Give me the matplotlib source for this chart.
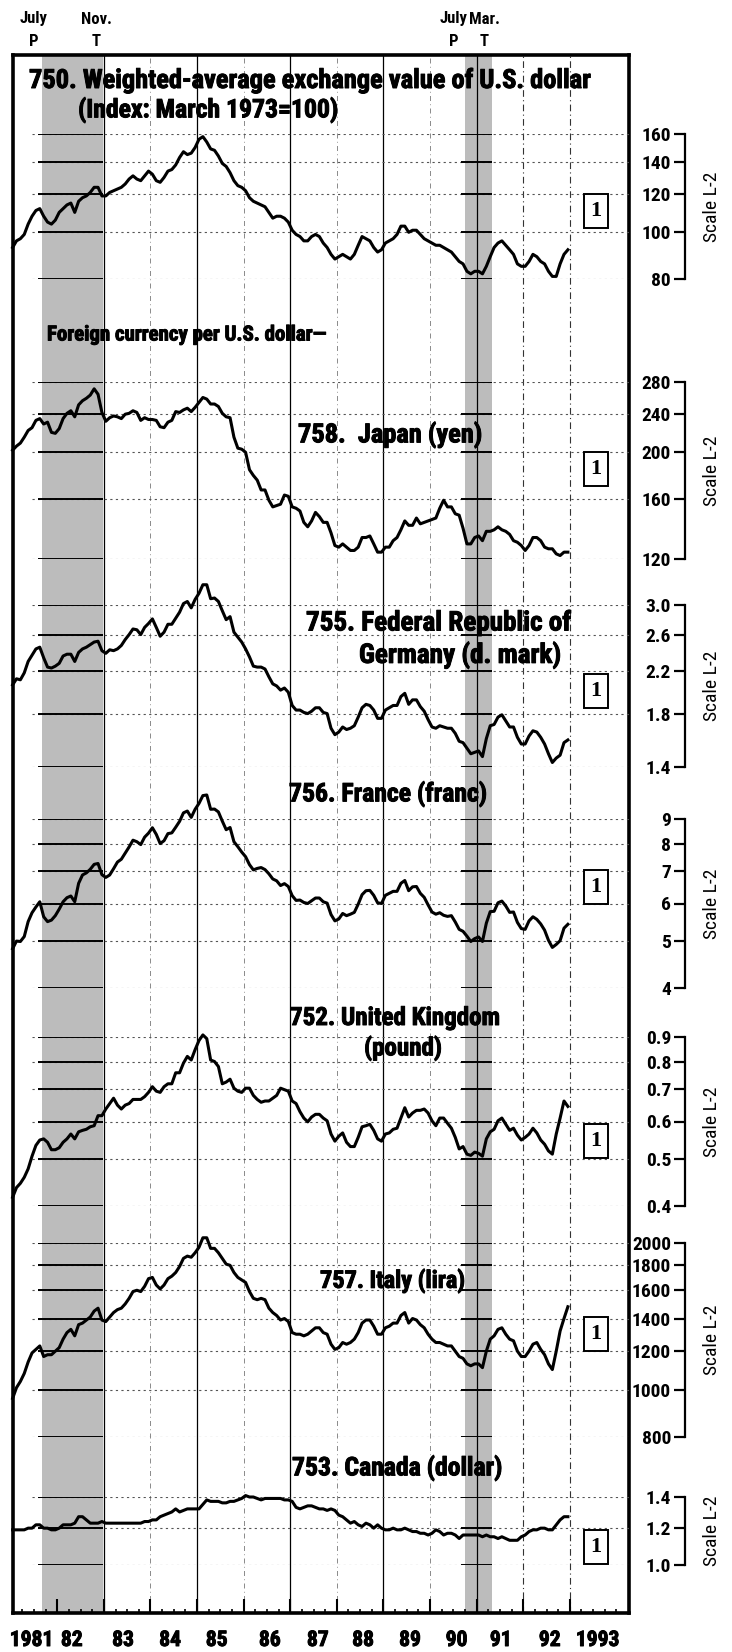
import numpy as np
import matplotlib
matplotlib.use('Agg')
import matplotlib.pyplot as plt
import matplotlib.patheffects as pe
from matplotlib.transforms import blended_transform_factory

plt.rcParams['font.family'] = ['Roboto Condensed', 'DejaVu Sans']

W, H = 732, 1652

# monthly averages, Jan 1981 - Dec 1992
x_month = 1981 + (np.arange(144) + 0.5) / 12

usd_index = [
    93, 96, 97, 99, 104, 108, 111, 112, 108, 105, 104, 106,
    110, 112, 114, 115, 110, 116, 118, 119, 121, 124, 124, 119,
    119, 121, 122, 123, 124, 126, 129, 131, 129, 128, 131, 134,
    132, 128, 127, 130, 134, 135, 138, 143, 147, 145, 146, 150,
    156, 158, 154, 149, 148, 144, 139, 137, 133, 128, 125, 124,
    122, 118, 116, 115, 114, 113, 110, 107, 108, 108, 107, 105,
    101, 99, 98, 96, 96, 98, 99, 98, 95, 93, 90, 88,
    89, 90, 89, 88, 90, 94, 98, 97, 96, 93, 91, 92,
    95, 96, 97, 99, 103, 103, 100, 101, 101, 99, 97, 96,
    95, 94, 94, 93, 92, 91, 89, 87, 86, 83, 82, 83,
    83, 82, 85, 89, 93, 95, 96, 94, 92, 90, 86, 85,
    85, 87, 90, 89, 87, 86, 83, 81, 81, 86, 90, 92,
]

yen = [
    202, 206, 209, 215, 222, 225, 233, 235, 229, 231, 220, 219,
    224, 235, 241, 244, 237, 251, 256, 259, 263, 271, 264, 242,
    232, 236, 238, 237, 235, 240, 241, 244, 242, 233, 236, 234,
    234, 233, 226, 225, 231, 233, 243, 242, 245, 247, 243, 248,
    254, 260, 258, 252, 252, 249, 241, 237, 236, 215, 204, 203,
    200, 184, 179, 175, 167, 167, 159, 154, 155, 156, 163, 162,
    154, 153, 151, 143, 140, 144, 150, 147, 143, 143, 136, 128,
    127, 129, 127, 125, 125, 127, 133, 133, 134, 129, 124, 124,
    127, 127, 131, 133, 138, 144, 141, 141, 146, 142, 143, 144,
    145, 146, 153, 159, 154, 154, 149, 148, 139, 129, 129, 133,
    134, 131, 137, 137, 138, 140, 138, 137, 135, 131, 130, 128,
    125, 128, 133, 133, 131, 127, 126, 126, 123, 122, 124, 124,
]

dmark = [
    2.06, 2.12, 2.11, 2.18, 2.30, 2.37, 2.44, 2.46, 2.34, 2.24, 2.23, 2.25,
    2.28, 2.36, 2.38, 2.38, 2.30, 2.40, 2.44, 2.46, 2.49, 2.52, 2.53, 2.42,
    2.39, 2.43, 2.42, 2.44, 2.48, 2.55, 2.61, 2.68, 2.67, 2.61, 2.70, 2.75,
    2.81, 2.70, 2.59, 2.64, 2.74, 2.74, 2.82, 2.90, 3.02, 3.05, 2.96, 3.08,
    3.17, 3.30, 3.30, 3.09, 3.10, 3.05, 2.92, 2.80, 2.84, 2.64, 2.58, 2.52,
    2.44, 2.35, 2.25, 2.24, 2.24, 2.22, 2.14, 2.07, 2.05, 2.01, 2.03, 1.99,
    1.87, 1.83, 1.83, 1.81, 1.80, 1.82, 1.85, 1.85, 1.81, 1.80, 1.68, 1.63,
    1.65, 1.69, 1.67, 1.68, 1.70, 1.77, 1.85, 1.88, 1.87, 1.83, 1.76, 1.76,
    1.83, 1.85, 1.87, 1.87, 1.95, 1.98, 1.88, 1.92, 1.92, 1.86, 1.82, 1.75,
    1.69, 1.68, 1.70, 1.69, 1.68, 1.68, 1.64, 1.58, 1.57, 1.53, 1.49, 1.50,
    1.51, 1.47, 1.60, 1.70, 1.71, 1.77, 1.79, 1.74, 1.69, 1.69, 1.61, 1.56,
    1.56, 1.62, 1.66, 1.65, 1.61, 1.56, 1.49, 1.43, 1.46, 1.48, 1.57, 1.59,
]

franc = [
    4.83, 5.01, 5.00, 5.12, 5.50, 5.74, 5.90, 6.05, 5.63, 5.50, 5.54, 5.66,
    5.84, 6.05, 6.17, 6.22, 6.05, 6.61, 6.88, 6.95, 7.07, 7.24, 7.27, 6.89,
    6.80, 6.88, 7.09, 7.32, 7.42, 7.64, 7.87, 8.13, 8.07, 7.96, 8.25, 8.41,
    8.63, 8.36, 8.00, 8.11, 8.39, 8.42, 8.65, 8.90, 9.27, 9.35, 9.07, 9.43,
    9.70, 10.07, 10.10, 9.43, 9.44, 9.31, 8.91, 8.55, 8.64, 8.07, 7.88, 7.68,
    7.51, 7.23, 7.05, 7.10, 7.13, 7.06, 6.92, 6.75, 6.69, 6.54, 6.60, 6.51,
    6.23, 6.09, 6.10, 6.03, 6.00, 6.08, 6.16, 6.16, 6.05, 6.01, 5.69, 5.52,
    5.57, 5.72, 5.66, 5.70, 5.75, 5.98, 6.26, 6.38, 6.39, 6.24, 6.02, 6.00,
    6.24, 6.30, 6.36, 6.36, 6.61, 6.70, 6.38, 6.50, 6.51, 6.30, 6.18, 5.96,
    5.76, 5.70, 5.74, 5.67, 5.64, 5.66, 5.49, 5.30, 5.25, 5.13, 5.00, 5.07,
    5.11, 5.00, 5.46, 5.77, 5.78, 6.02, 6.07, 5.93, 5.75, 5.76, 5.48, 5.32,
    5.30, 5.52, 5.63, 5.56, 5.44, 5.28, 5.03, 4.86, 4.93, 5.02, 5.33, 5.43,
]

pound = [
    0.417, 0.437, 0.446, 0.459, 0.478, 0.508, 0.535, 0.549, 0.552, 0.543, 0.524, 0.524,
    0.529, 0.543, 0.552, 0.565, 0.552, 0.571, 0.575, 0.578, 0.585, 0.588, 0.617, 0.617,
    0.637, 0.654, 0.671, 0.649, 0.637, 0.649, 0.654, 0.667, 0.667, 0.667, 0.676, 0.690,
    0.709, 0.694, 0.690, 0.709, 0.719, 0.719, 0.758, 0.758, 0.794, 0.820, 0.806, 0.847,
    0.885, 0.909, 0.893, 0.806, 0.800, 0.781, 0.719, 0.725, 0.735, 0.704, 0.694, 0.690,
    0.704, 0.704, 0.680, 0.667, 0.658, 0.662, 0.662, 0.671, 0.680, 0.704, 0.699, 0.694,
    0.662, 0.654, 0.629, 0.610, 0.599, 0.613, 0.621, 0.621, 0.610, 0.602, 0.565, 0.546,
    0.559, 0.568, 0.543, 0.532, 0.532, 0.556, 0.585, 0.588, 0.592, 0.575, 0.552, 0.546,
    0.565, 0.568, 0.578, 0.581, 0.610, 0.641, 0.613, 0.625, 0.633, 0.633, 0.637, 0.625,
    0.602, 0.588, 0.610, 0.610, 0.595, 0.581, 0.556, 0.526, 0.532, 0.513, 0.510, 0.518,
    0.515, 0.508, 0.552, 0.571, 0.578, 0.602, 0.610, 0.592, 0.575, 0.581, 0.562, 0.549,
    0.556, 0.565, 0.581, 0.568, 0.549, 0.538, 0.521, 0.513, 0.565, 0.610, 0.662, 0.645,
]

lira = [
    960, 1010, 1040, 1080, 1140, 1190, 1210, 1230, 1170, 1180, 1180, 1200,
    1220, 1270, 1310, 1330, 1290, 1360, 1370, 1390, 1410, 1450, 1470, 1390,
    1380, 1410, 1440, 1460, 1470, 1500, 1540, 1590, 1600, 1590, 1630, 1690,
    1700, 1640, 1610, 1640, 1690, 1710, 1740, 1790, 1860, 1880, 1870, 1910,
    1960, 2050, 2050, 1950, 1950, 1910, 1860, 1810, 1800, 1740, 1700, 1680,
    1660, 1590, 1540, 1530, 1540, 1530, 1470, 1440, 1420, 1390, 1400, 1380,
    1310, 1300, 1300, 1290, 1300, 1320, 1340, 1340, 1310, 1300, 1240, 1210,
    1220, 1250, 1240, 1250, 1270, 1310, 1370, 1390, 1390, 1350, 1300, 1300,
    1340, 1350, 1370, 1370, 1420, 1440, 1370, 1400, 1390, 1360, 1340, 1300,
    1270, 1250, 1250, 1240, 1230, 1230, 1200, 1170, 1160, 1130, 1120, 1130,
    1130, 1110, 1200, 1270, 1290, 1330, 1340, 1300, 1270, 1260, 1200, 1170,
    1170, 1200, 1240, 1250, 1210, 1180, 1130, 1100, 1200, 1320, 1400, 1480,
]

cad = [
    1.19, 1.19, 1.19, 1.19, 1.20, 1.20, 1.22, 1.22, 1.20, 1.20, 1.19, 1.19,
    1.20, 1.22, 1.22, 1.22, 1.23, 1.27, 1.27, 1.25, 1.23, 1.23, 1.23, 1.24,
    1.23, 1.23, 1.23, 1.23, 1.23, 1.23, 1.23, 1.23, 1.23, 1.23, 1.24, 1.24,
    1.25, 1.25, 1.27, 1.28, 1.29, 1.30, 1.32, 1.30, 1.31, 1.32, 1.32, 1.32,
    1.32, 1.35, 1.38, 1.37, 1.37, 1.37, 1.36, 1.36, 1.37, 1.37, 1.38, 1.39,
    1.41, 1.40, 1.40, 1.39, 1.38, 1.39, 1.39, 1.39, 1.39, 1.39, 1.38, 1.38,
    1.37, 1.33, 1.32, 1.33, 1.34, 1.34, 1.33, 1.32, 1.32, 1.31, 1.32, 1.31,
    1.28, 1.27, 1.25, 1.23, 1.24, 1.22, 1.21, 1.23, 1.22, 1.20, 1.22, 1.20,
    1.19, 1.19, 1.20, 1.19, 1.19, 1.20, 1.19, 1.18, 1.18, 1.17, 1.17, 1.16,
    1.17, 1.19, 1.18, 1.16, 1.17, 1.17, 1.16, 1.14, 1.16, 1.16, 1.16, 1.16,
    1.16, 1.15, 1.16, 1.15, 1.15, 1.14, 1.15, 1.14, 1.13, 1.13, 1.13, 1.15,
    1.16, 1.18, 1.19, 1.19, 1.20, 1.20, 1.19, 1.19, 1.22, 1.25, 1.27, 1.27,
]

usd_ticks = [80, 100, 120, 140, 160]
yen_ticks = [120, 160, 200, 240, 280]
dmark_ticks = [1.4, 1.8, 2.2, 2.6, 3.0]
franc_ticks = [4, 5, 6, 7, 8, 9]
pound_ticks = [0.4, 0.5, 0.6, 0.7, 0.8, 0.9]
lira_ticks = [800, 1000, 1200, 1400, 1600, 1800, 2000]
cad_ticks = [1.0, 1.2, 1.4]

recessions = [(1981.68, 1982.98), (1990.76, 1991.34)]
year_labels = ['1981', '82', '83', '84', '85', '86', '87', '88', '89', '90', '91', '92', '1993']
label_pos = [1981.45, 1982.31, 1983.41, 1984.42, 1985.42, 1986.56, 1987.59,
             1988.56, 1989.57, 1990.57, 1991.52, 1992.57, 1993.6]

# panel layout: series, ticks, tick format, pixel row of top and bottom tick, box row
panels = [
    (usd_index, usd_ticks, '{:g}', 134, 279, 211),
    (yen, yen_ticks, '{:g}', 382, 559, 469),
    (dmark, dmark_ticks, '{:.1f}', 605, 767, 691),
    (franc, franc_ticks, '{:g}', 819, 988, 887),
    (pound, pound_ticks, '{:.1f}', 1037, 1206, 1141),
    (lira, lira_ticks, '{:g}', 1243, 1437, 1334),
    (cad, cad_ticks, '{:.1f}', 1497, 1565, 1547),
]

XL, XR = 1981.05, 1994.27
LEFT, RIGHT, TOP, BOTTOM = 13, 629, 55, 1613
SCALE_X = 685

# heavier strokes for the bold lettering
heavy = [pe.withStroke(linewidth=0.7, foreground='black')]


def fx(px):
    return px / W


def fy(py):
    return 1 - py / H


fig = plt.figure(figsize=(W / 100, H / 100), dpi=100)
fig.patch.set_facecolor('white')

ax = fig.add_axes([fx(LEFT), fy(BOTTOM), fx(RIGHT) - fx(LEFT), fy(TOP) - fy(BOTTOM)])
ax.set_xlim(XL, XR)
ax.set_ylim(0, 1)
for s in ax.spines.values():
    s.set_linewidth(2.6)
ax.set_yticks([])
ax.set_xticks(np.arange(1982, 1994))
ax.set_xticks(np.arange(1981.25, 1994.2, 0.25), minor=True)
ax.tick_params(axis='x', which='major', direction='in', length=10, width=1.5, labelbottom=False)
ax.tick_params(axis='x', which='minor', direction='in', length=3, width=1.2)

for a, b in recessions:
    ax.axvspan(a, b, color='#bcbcbc', lw=0, zorder=0)
for yr in [1983, 1985, 1987, 1989, 1991]:
    ax.axvline(yr, color='black', lw=0.9, zorder=1)
for yr in [1984, 1986, 1988, 1990]:
    ax.axvline(yr, color='#777777', lw=0.6, ls=(0, (6, 4, 1, 4)), zorder=1)
for yr in [1992, 1993]:
    ax.axvline(yr, color='#333333', lw=0.8, ls=(0, (6, 3, 1, 3)), zorder=1)

tr = blended_transform_factory(ax.transData, fig.transFigure)
for lab, xp in zip(year_labels, label_pos):
    ax.text(xp, fy(1640), lab, transform=tr, ha='center', va='center',
            fontsize=15.5, fontweight='bold', path_effects=heavy)

for series, ticks, fmt, ytop, ybot, ybox in panels:
    rect = [fx(LEFT), fy(ybot), fx(RIGHT) - fx(LEFT), fy(ytop) - fy(ybot)]
    pax = fig.add_axes(rect)
    pax.set_yscale('log')
    pax.set_xlim(XL, XR)
    pax.set_ylim(ticks[0], ticks[-1])
    pax.axis('off')
    pax.patch.set_visible(False)
    pax.hlines(ticks, 1981.45, XR, colors='#555555', lw=0.8, ls=(0, (2, 3)), zorder=1)
    for a, b in recessions:
        pax.hlines(ticks, a - 0.1, b, colors='black', lw=1.4, zorder=1)
    pax.plot(x_month, series, color='black', lw=2.2, clip_on=False, zorder=3,
             solid_joinstyle='round')
    pax.text(1993.56, fy(ybox), '1', transform=blended_transform_factory(pax.transData, fig.transFigure),
             ha='center', va='center', fontsize=16, fontweight='bold', family='Liberation Serif',
             bbox=dict(boxstyle='square,pad=0.3', fc='white', ec='black', lw=1.4))

    sax = fig.add_axes([fx(SCALE_X), fy(ybot), 0.0005, fy(ytop) - fy(ybot)])
    sax.set_yscale('log')
    sax.set_ylim(ticks[0], ticks[-1])
    sax.patch.set_visible(False)
    for side in ['top', 'right', 'bottom']:
        sax.spines[side].set_visible(False)
    sax.spines['left'].set_linewidth(1.6)
    sax.set_xticks([])
    sax.set_yticks(ticks)
    sax.set_yticklabels([fmt.format(t) for t in ticks])
    sax.yaxis.set_minor_locator(matplotlib.ticker.NullLocator())
    sax.tick_params(axis='y', direction='out', length=8, width=1.6, pad=2, labelsize=14)
    for lbl in sax.get_yticklabels():
        lbl.set_fontweight('bold')
    fig.text(fx(712), fy((ytop + ybot) / 2), 'Scale L-2', rotation=90, ha='center', va='center',
             fontsize=14)

# business cycle peak and trough markers above the frame
for xp, word, letter in [(1981.5, 'July', 'P'), (1982.83, 'Nov.', 'T'),
                         (1990.5, 'July', 'P'), (1991.17, 'Mar.', 'T')]:
    ax.text(xp, fy(19), word, transform=tr, ha='center', va='center', fontsize=12, fontweight='bold')
    ax.text(xp, fy(41), letter, transform=tr, ha='center', va='center', fontsize=12, fontweight='bold')

titles = [
    (29, 81, '750. Weighted-average exchange value of U.S. dollar', 19),
    (78, 110, '(Index: March 1973=100)', 18.5),
    (47, 335, 'Foreign currency per U.S. dollar\u2014', 15),
    (298, 435, '758.  Japan (yen)', 19),
    (306, 623, '755. Federal Republic of', 19.5),
    (359, 655, 'Germany (d. mark)', 19.5),
    (289, 794, '756. France (franc)', 18.5),
    (290, 1018, '752. United Kingdom', 18),
    (364, 1048, '(pound)', 18),
    (320, 1281, '757. Italy (lira)', 17.5),
    (292, 1468, '753. Canada (dollar)', 18.5),
]
for xp, yp, txt, fs in titles:
    fig.text(fx(xp), fy(yp), txt, ha='left', va='center', fontsize=fs, fontweight='bold',
             zorder=5, path_effects=heavy)

fig.savefig('out.png', dpi=100)
